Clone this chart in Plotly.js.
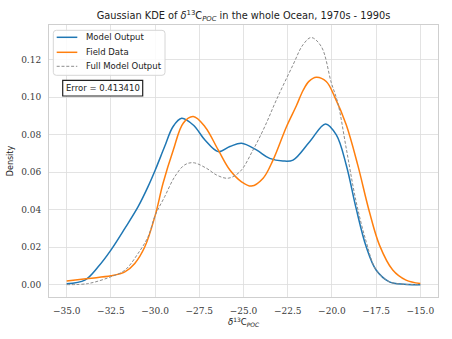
<!DOCTYPE html>
<html>
<head>
<meta charset="utf-8">
<script src="https://cdn.plot.ly/plotly-3.0.1.min.js"></script>
<style>html,body{margin:0;padding:0;background:#fff;}#chart{width:452px;height:339px;}</style>
</head>
<body>
<div id="chart"></div>
<script>
// Model Output
const modelX = [-35, -33.97, -33.22, -32.5, -31.71, -30.96, -30.4, -29.99, -29.46, -28.99, -28.5, -27.84, -27.18, -26.43, -25.77, -25.11, -24.27, -23.52, -22.77, -22.2, -21.26, -20.36, -19.75, -19.19, -18.63, -18.06, -17.5, -16.75, -15.9, -15];
const modelY = [0.0005, 0.0024, 0.0095, 0.0184, 0.030, 0.0416, 0.0523, 0.0612, 0.0737, 0.0843, 0.0888, 0.0852, 0.0772, 0.0710, 0.0737, 0.0755, 0.0719, 0.0674, 0.0660, 0.0665, 0.0763, 0.0858, 0.0799, 0.0639, 0.0407, 0.0202, 0.0078, 0.0015, 0.0002, 0.0];
// Field Data
const fieldX = [-35, -33.78, -32.5, -31.71, -31.15, -30.58, -29.99, -29.55, -28.97, -28.41, -27.84, -27.18, -26.43, -25.77, -25.11, -24.55, -23.89, -23.33, -22.57, -22.01, -21.64, -21.3, -20.88, -20.32, -19.85, -19.19, -18.54, -17.88, -17.31, -16.56, -15.81, -15];
const fieldY = [0.0019, 0.0033, 0.0047, 0.0068, 0.0113, 0.0202, 0.0371, 0.0541, 0.0719, 0.0862, 0.0897, 0.0843, 0.0719, 0.0612, 0.0549, 0.0526, 0.0568, 0.0665, 0.0843, 0.0955, 0.1035, 0.1085, 0.1107, 0.1084, 0.1004, 0.0853, 0.0639, 0.0389, 0.0211, 0.0078, 0.0024, 0.0006];
// Full Model Output
const fullX = [-35, -33.78, -32.5, -31.71, -30.96, -30.4, -29.99, -29.46, -28.89, -28.33, -27.84, -27.09, -26.52, -25.87, -25.2, -24.46, -23.8, -23.14, -22.2, -21.64, -21.17, -20.6, -20.04, -19.66, -19.19, -18.63, -18.06, -17.5, -16.75, -15.9, -15];
const fullY = [0.0, 0.0006, 0.0042, 0.0077, 0.0167, 0.0255, 0.0371, 0.0469, 0.0576, 0.0639, 0.0651, 0.0621, 0.0585, 0.0568, 0.0603, 0.0719, 0.0843, 0.0986, 0.1173, 0.1280, 0.1319, 0.1271, 0.1080, 0.0968, 0.0728, 0.0443, 0.0229, 0.0078, 0.0015, 0.0002, 0.0];

const seriesNames = ['Model Output', 'Field Data', 'Full Model Output'];
const xTicks = [-35, -32.5, -30, -27.5, -25, -22.5, -20, -17.5, -15];
const yTicks = [0, 0.02, 0.04, 0.06, 0.08, 0.10, 0.12];
const errorText = 'Error = 0.413410';

const sans = 'DejaVu Sans, sans-serif';
const serif = 'DejaVu Serif, serif';
const colors = ['#1f77b4', '#ff7f0e', '#8c8c8c'];
const lineStyles = [
  {color: colors[0], width: 1.5},
  {color: colors[1], width: 1.5},
  {color: colors[2], width: 1, dash: '3px,1.8px'}
];

const traces = [
  {x: modelX, y: modelY, name: seriesNames[0], mode: 'lines',
   line: Object.assign({shape: 'spline', smoothing: 1}, lineStyles[0])},
  {x: fieldX, y: fieldY, name: seriesNames[1], mode: 'lines',
   line: Object.assign({shape: 'spline', smoothing: 1}, lineStyles[1])},
  {x: fullX, y: fullY, name: seriesNames[2], mode: 'lines',
   line: Object.assign({shape: 'spline', smoothing: 1}, lineStyles[2])}
];

// plot area in px: left 49, width 389, top 25, height 272
const PX = v => (v - 49) / 389;
const PY = v => 1 - (v - 25) / 272;

function roundRect(x0, y0, x1, y1, r) {
  const rx = r / 389, ry = r / 272;
  const a = PX(x0), b = PX(x1), t = PY(y0), bt = PY(y1);
  return `M ${a+rx},${t} L ${b-rx},${t} Q ${b},${t} ${b},${t-ry} L ${b},${bt+ry} Q ${b},${bt} ${b-rx},${bt} L ${a+rx},${bt} Q ${a},${bt} ${a},${bt+ry} L ${a},${t-ry} Q ${a},${t} ${a+rx},${t} Z`;
}

const shapes = [
  {type: 'path', xref: 'paper', yref: 'paper', path: roundRect(53.3, 30.3, 165, 75.3, 3),
   fillcolor: 'rgba(255,255,255,0.85)', line: {color: '#d6d6d6', width: 1}, layer: 'above'},
  {type: 'rect', xref: 'paper', yref: 'paper', x0: PX(62.7), x1: PX(142.7), y0: PY(80.3), y1: PY(96),
   fillcolor: '#ffffff', line: {color: '#222', width: 1.2}, layer: 'above'}
];
const annotations = [
  {xref: 'paper', yref: 'paper', x: PX(102.7), y: PY(88.2), xanchor: 'center', yanchor: 'middle',
   text: errorText, showarrow: false, font: {family: sans, size: 8.5, color: '#222'}}
];
const legendY = [37.3, 52.3, 66.3];
seriesNames.forEach((n, i) => {
  shapes.push({type: 'line', xref: 'paper', yref: 'paper', x0: PX(56.7), x1: PX(77.3),
               y0: PY(legendY[i]), y1: PY(legendY[i]), line: lineStyles[i], layer: 'above'});
  annotations.push({xref: 'paper', yref: 'paper', x: PX(83.5), y: PY(legendY[i]), xanchor: 'left', yanchor: 'middle',
                    text: n, showarrow: false, font: {family: sans, size: 8.5, color: '#222'}});
});

const layout = {
  width: 452, height: 339,
  margin: {l: 49, r: 14, t: 25, b: 42, pad: 0},
  paper_bgcolor: '#ffffff', plot_bgcolor: '#ffffff',
  showlegend: false,
  title: {text: 'Gaussian KDE of <i>δ</i><sup>13</sup>C<sub><i>POC</i></sub> in the whole Ocean, 1970s - 1990s',
          font: {family: sans, size: 9.8, color: '#222'}, x: 0.5, xref: 'paper', xanchor: 'center',
          y: 0.955, yref: 'container', yanchor: 'middle'},
  xaxis: {range: [-36, -14], tickvals: xTicks, tickformat: '.1f',
          showgrid: true, gridcolor: '#dcdcdc', gridwidth: 0.8, zeroline: false,
          showline: true, mirror: true, linecolor: '#cfcfcf', linewidth: 1,
          ticks: '', ticklabelstandoff: 5, tickfont: {family: serif, size: 9, color: '#3a3a3a'},
          title: {text: '<i>δ</i><sup>13</sup>C<sub><i>POC</i></sub>', font: {family: sans, size: 8.5, color: '#222'}, standoff: 2}},
  yaxis: {range: [-0.0066, 0.1386], tickvals: yTicks, tickformat: '.2f',
          showgrid: true, gridcolor: '#dcdcdc', gridwidth: 0.8, zeroline: false,
          showline: true, mirror: true, linecolor: '#cfcfcf', linewidth: 1,
          ticks: '', ticklabelstandoff: 5, tickfont: {family: serif, size: 9, color: '#3a3a3a'},
          title: {text: 'Density', font: {family: sans, size: 8, color: '#222'}, standoff: 6}},
  shapes: shapes,
  annotations: annotations
};

Plotly.newPlot('chart', traces, layout, {displayModeBar: false, staticPlot: true});
</script>
</body>
</html>
